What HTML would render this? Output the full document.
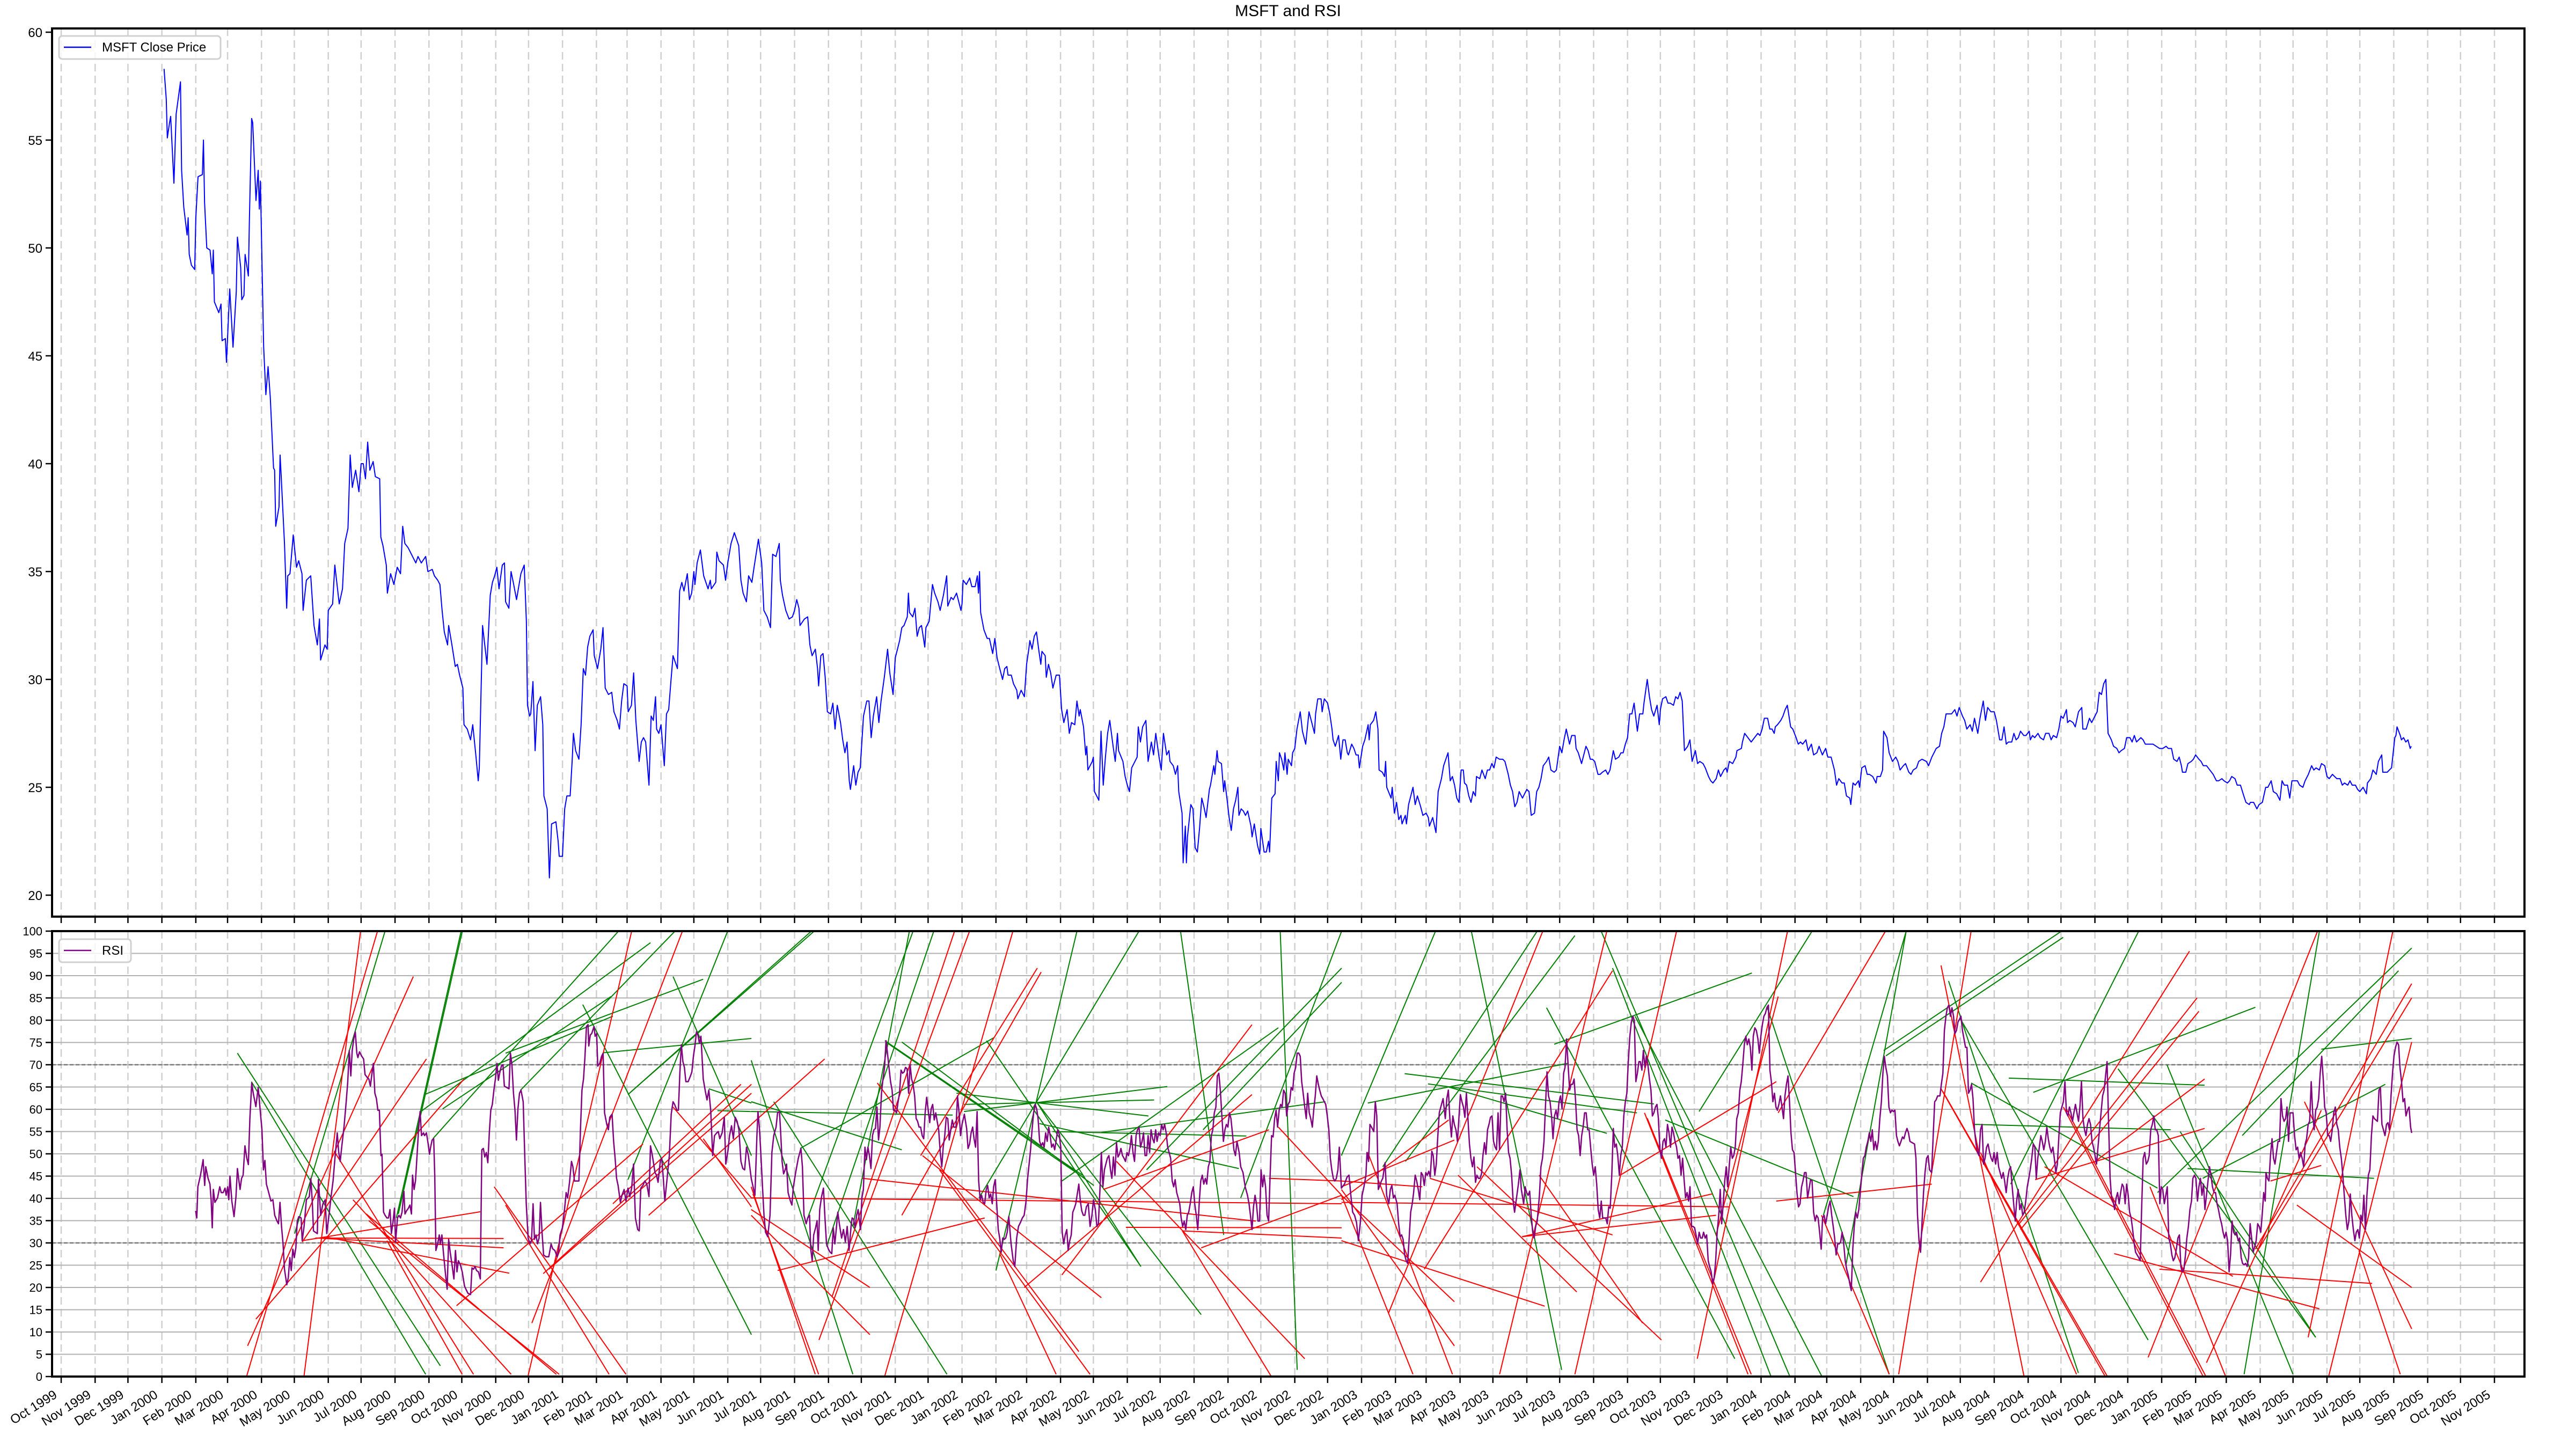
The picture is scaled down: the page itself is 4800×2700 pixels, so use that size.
<!DOCTYPE html>
<html><head><meta charset="utf-8"><title>MSFT and RSI</title>
<style>
html,body{margin:0;padding:0;background:#fff;}
#wrap{position:relative;width:4800px;height:2700px;overflow:hidden;background:#fff;}
svg{position:absolute;left:0;top:0;font-family:"Liberation Sans","DejaVu Sans",sans-serif;}
</style></head>
<body>
<div id="wrap">
<svg id="chart" width="4800" height="2700" viewBox="0 0 4800 2700">
<defs>
<clipPath id="clipTop"><rect x="97" y="53" width="4607" height="1655"/></clipPath>
<clipPath id="clipBot"><rect x="97" y="1735" width="4607" height="830"/></clipPath>
</defs>
<text x="2400" y="30" text-anchor="middle" font-size="30" fill="#000">MSFT and RSI</text>
<g id="topGrid"></g>
<g id="botGrid"></g>
<g id="topMarks" clip-path="url(#clipTop)"></g>
<g id="botMarks" clip-path="url(#clipBot)"></g>
<g id="axes"></g>
<g>
<rect x="110" y="67" width="301" height="43" rx="6" fill="#fff" fill-opacity="0.8" stroke="#d0d0d0" stroke-width="3"/>
<line x1="119" y1="88" x2="170" y2="88" stroke="#0000ff" stroke-width="2.5"/>
<text x="190" y="96" font-size="24" fill="#000">MSFT Close Price</text>
</g>
<g>
<rect x="110" y="1750" width="134" height="43" rx="6" fill="#fff" fill-opacity="0.8" stroke="#d0d0d0" stroke-width="3"/>
<line x1="119" y1="1771" x2="170" y2="1771" stroke="#800080" stroke-width="2.5"/>
<text x="190" y="1779" font-size="24" fill="#000">RSI</text>
</g>
<text x="2400" y="2722" text-anchor="middle" font-size="30" fill="#000">Date</text>
</svg>
</div>
<script>
// ---- data ----
var startDate = [1999, 9, 1];
var monthNames = ["Jan","Feb","Mar","Apr","May","Jun","Jul","Aug","Sep","Oct","Nov","Dec"];
var priceTicks = [20,25,30,35,40,45,50,55,60];
var rsiTicks = [0,5,10,15,20,25,30,35,40,45,50,55,60,65,70,75,80,85,90,95,100];
// price: [days since 1999-10-01, close]
var priceData = [[94,58.3],[96,56.9],[97,55.1],[99,55.8],[100,56.1],[103,53.0],[105,56.2],[109,57.7],[110,53.6],[112,51.9],[115,50.6],[116,51.4],[117,49.7],[119,49.2],[122,49.0],[123,51.4],[125,53.3],[129,53.4],[130,55.0],[131,52.1],[133,50.0],[136,49.9],[138,48.8],[139,49.9],[140,47.5],[144,47.0],[146,47.4],[147,45.7],[150,45.8],[151,44.7],[154,48.1],[157,45.4],[160,48.0],[161,50.5],[164,49.1],[165,47.6],[167,47.8],[168,49.7],[171,48.7],[172,51.4],[174,56.0],[175,55.8],[178,52.2],[180,53.6],[181,51.8],[182,53.1],[185,45.4],[187,43.2],[189,44.5],[191,43.1],[194,39.8],[195,39.7],[196,37.1],[199,38.0],[200,40.4],[201,39.4],[204,36.3],[206,33.3],[207,34.8],[209,34.9],[212,36.7],[215,35.2],[217,35.5],[220,34.9],[221,33.2],[224,34.6],[228,34.8],[231,32.5],[234,31.6],[236,32.8],[237,30.9],[241,31.6],[243,31.4],[244,33.2],[248,33.5],[250,35.3],[252,34.4],[254,33.5],[257,34.2],[259,36.3],[262,37.0],[264,40.4],[266,38.9],[269,39.7],[272,38.7],[274,40.0],[276,40.0],[278,39.3],[280,41.0],[282,39.7],[285,40.1],[287,39.4],[291,39.3],[292,36.6],[294,36.2],[297,35.3],[298,34.0],[301,34.9],[304,34.4],[307,35.2],[310,34.9],[312,37.1],[314,36.3],[317,36.1],[321,35.7],[324,35.4],[326,35.7],[329,35.4],[333,35.7],[335,35.0],[339,35.1],[341,34.8],[344,34.6],[346,34.4],[348,33.2],[350,32.2],[353,31.6],[354,32.5],[357,31.6],[360,30.6],[362,30.7],[364,30.2],[367,29.6],[368,27.9],[371,27.7],[374,27.2],[376,27.9],[379,26.4],[381,25.3],[382,25.9],[385,32.5],[387,31.6],[389,30.7],[392,33.9],[394,34.5],[396,34.8],[398,35.2],[400,34.2],[403,35.3],[405,35.4],[406,33.6],[409,33.3],[411,35.0],[413,34.5],[416,33.7],[420,34.9],[423,35.3],[425,32.7],[426,28.8],[428,28.3],[429,28.4],[431,29.9],[433,26.7],[435,28.8],[438,29.2],[440,27.9],[441,24.6],[444,24.0],[446,20.8],[448,23.3],[452,23.4],[454,22.5],[455,21.8],[458,21.8],[460,24.0],[462,24.6],[465,24.6],[467,26.4],[468,27.5],[470,26.7],[473,26.3],[475,27.9],[477,30.5],[479,30.2],[481,31.5],[483,32.0],[486,32.3],[487,31.1],[490,30.5],[493,31.4],[495,32.4],[497,29.6],[500,29.3],[503,29.4],[505,28.5],[508,28.1],[510,27.7],[512,29.0],[514,29.8],[517,29.7],[518,28.5],[521,28.8],[523,30.3],[525,28.1],[528,26.2],[530,27.1],[532,27.3],[534,27.1],[537,25.1],[539,28.3],[541,28.1],[543,29.2],[544,27.7],[546,27.5],[548,27.9],[551,26.0],[553,28.4],[555,28.6],[557,29.9],[559,31.1],[563,30.5],[565,34.1],[567,34.5],[569,34.1],[572,34.9],[574,33.7],[576,34.0],[578,35.0],[579,34.4],[581,35.4],[584,36.0],[586,35.2],[587,34.8],[591,34.2],[593,34.6],[594,34.2],[598,34.5],[599,35.9],[601,35.5],[605,35.3],[607,34.6],[609,35.4],[612,36.3],[615,36.8],[619,36.2],[621,34.6],[623,34.0],[626,33.6],[628,34.8],[631,34.5],[633,35.2],[637,36.5],[640,35.4],[642,33.2],[645,32.9],[648,32.4],[650,35.8],[653,35.7],[656,36.3],[657,34.6],[659,33.9],[662,33.2],[665,32.8],[668,32.9],[670,33.2],[672,33.7],[674,33.3],[675,32.5],[679,32.8],[682,32.9],[684,31.6],[686,31.1],[689,31.4],[691,30.5],[692,29.7],[694,31.1],[696,31.2],[698,30.1],[700,28.5],[703,28.4],[705,28.9],[707,27.7],[709,28.8],[712,28.0],[714,27.2],[716,26.6],[718,27.1],[720,25.3],[721,24.9],[724,26.0],[726,25.1],[728,25.7],[730,25.9],[733,28.3],[736,29.0],[738,29.0],[740,27.3],[742,28.3],[745,29.2],[747,28.0],[749,29.0],[752,30.1],[755,31.4],[757,30.3],[760,29.3],[762,31.0],[764,31.4],[766,31.8],[768,32.4],[770,32.5],[773,32.9],[774,34.0],[775,33.1],[778,32.9],[780,33.3],[782,32.0],[784,32.4],[786,32.5],[789,31.5],[790,32.4],[793,32.7],[796,34.4],[798,34.0],[801,33.6],[803,33.2],[806,33.9],[808,34.5],[809,34.8],[810,33.4],[813,33.8],[815,33.7],[818,34.0],[822,33.2],[823,33.5],[824,34.6],[827,34.4],[830,34.7],[832,34.3],[835,34.3],[837,34.8],[838,34.0],[839,35.0],[840,33.1],[843,32.3],[846,31.9],[848,31.9],[851,31.2],[853,31.9],[855,31.0],[857,30.6],[860,30.0],[862,30.5],[864,30.6],[865,30.2],[868,30.2],[870,29.8],[873,29.5],[874,29.1],[877,29.5],[880,29.2],[882,30.7],[884,31.4],[885,31.8],[887,31.4],[889,32.0],[891,32.2],[893,31.4],[895,30.7],[896,31.3],[899,31.1],[900,30.1],[902,30.7],[904,30.3],[906,29.6],[909,30.2],[912,30.2],[914,28.6],[916,28.0],[919,28.6],[921,27.5],[923,28.0],[926,27.9],[928,29.0],[930,28.3],[931,28.6],[934,27.8],[936,26.5],[937,26.9],[938,25.8],[942,26.2],[943,26.4],[944,24.8],[948,24.4],[950,27.6],[952,25.1],[954,26.4],[956,27.5],[958,28.1],[961,26.9],[963,26.2],[965,27.5],[966,26.7],[970,26.2],[972,25.5],[974,25.1],[976,24.8],[978,25.9],[981,26.2],[983,26.4],[984,27.8],[986,27.1],[988,27.8],[991,28.1],[993,26.2],[996,27.1],[998,26.5],[1000,27.5],[1003,26.4],[1005,25.8],[1007,27.5],[1010,26.5],[1012,26.7],[1013,26.2],[1016,26.0],[1018,25.6],[1020,26.0],[1021,24.8],[1024,23.8],[1025,21.5],[1027,23.2],[1028,21.5],[1029,22.7],[1032,24.2],[1034,24.0],[1036,22.2],[1038,22.0],[1040,23.1],[1042,24.5],[1044,24.1],[1046,23.6],[1049,24.9],[1050,25.1],[1053,26.0],[1054,25.6],[1056,26.7],[1057,26.2],[1060,26.1],[1062,24.8],[1063,25.3],[1065,24.5],[1067,23.6],[1069,23.0],[1071,24.0],[1073,24.4],[1075,25.0],[1076,23.7],[1078,24.0],[1080,23.9],[1082,23.7],[1084,23.9],[1087,23.2],[1088,22.7],[1090,23.3],[1093,22.3],[1095,21.9],[1096,23.1],[1099,22.0],[1101,22.0],[1103,22.5],[1104,22.0],[1106,24.5],[1109,24.7],[1110,26.2],[1112,25.3],[1113,26.6],[1115,26.3],[1117,25.8],[1118,26.6],[1120,25.6],[1121,26.3],[1124,26.0],[1125,26.6],[1127,26.8],[1129,27.7],[1132,28.5],[1134,27.6],[1137,27.0],[1140,28.5],[1143,27.9],[1145,27.5],[1146,28.4],[1148,29.1],[1151,29.1],[1152,28.5],[1154,29.1],[1157,28.9],[1159,28.4],[1161,27.7],[1162,27.2],[1164,26.9],[1167,27.4],[1169,26.3],[1171,27.2],[1173,27.2],[1175,26.6],[1176,26.5],[1179,27.0],[1181,26.8],[1183,26.5],[1185,26.5],[1186,25.9],[1189,26.9],[1191,27.2],[1194,27.9],[1195,27.2],[1196,27.9],[1199,28.1],[1201,28.5],[1203,27.7],[1204,25.8],[1207,25.7],[1209,25.5],[1210,26.2],[1211,25.0],[1215,24.5],[1216,25.0],[1218,23.8],[1220,24.3],[1222,23.5],[1224,23.7],[1225,23.3],[1228,23.7],[1229,23.3],[1231,24.2],[1233,24.6],[1235,25.0],[1237,24.2],[1239,24.6],[1242,24.1],[1244,23.7],[1247,23.8],[1249,23.6],[1250,23.2],[1253,23.6],[1256,22.9],[1258,24.8],[1261,25.4],[1263,26.0],[1265,26.3],[1267,26.6],[1269,25.3],[1271,25.5],[1273,25.1],[1275,24.5],[1277,24.3],[1279,25.8],[1281,25.8],[1282,25.2],[1284,25.1],[1286,24.6],[1288,24.3],[1290,24.8],[1292,24.6],[1293,25.5],[1296,25.4],[1298,25.8],[1301,25.4],[1303,25.8],[1305,25.8],[1307,26.1],[1309,25.9],[1311,26.4],[1314,26.3],[1317,26.3],[1319,26.2],[1322,25.6],[1324,25.1],[1326,24.8],[1328,24.1],[1330,24.3],[1332,24.8],[1335,24.5],[1337,24.7],[1339,24.9],[1341,24.8],[1343,23.7],[1346,23.8],[1348,24.8],[1350,25.0],[1352,25.4],[1354,26.0],[1357,26.2],[1359,26.4],[1361,25.8],[1364,25.7],[1366,25.8],[1369,26.9],[1371,26.6],[1373,27.2],[1375,27.7],[1378,27.0],[1380,27.4],[1383,27.4],[1384,26.8],[1386,26.6],[1389,26.1],[1391,26.5],[1393,26.9],[1395,26.7],[1397,26.3],[1399,26.3],[1401,26.2],[1404,25.6],[1406,25.6],[1408,25.7],[1411,25.8],[1413,25.6],[1415,25.8],[1418,26.7],[1420,26.3],[1423,26.4],[1425,26.6],[1427,26.6],[1429,27.0],[1431,27.3],[1433,28.4],[1435,28.4],[1437,28.9],[1440,27.6],[1442,28.4],[1445,28.4],[1446,28.9],[1449,30.0],[1451,29.2],[1453,28.6],[1455,28.3],[1458,28.8],[1460,27.9],[1461,28.6],[1463,29.1],[1466,29.2],[1468,28.9],[1470,28.9],[1473,28.8],[1475,29.2],[1477,29.1],[1479,29.4],[1481,29.0],[1483,26.7],[1486,26.9],[1488,27.2],[1490,26.2],[1493,26.7],[1495,26.1],[1497,26.2],[1500,26.1],[1502,25.9],[1505,25.5],[1507,25.3],[1509,25.2],[1512,25.4],[1514,25.8],[1516,25.5],[1519,25.8],[1521,25.9],[1522,25.7],[1524,26.2],[1527,26.1],[1530,26.4],[1531,26.7],[1535,26.8],[1536,27.1],[1538,27.5],[1541,27.3],[1544,27.1],[1547,27.3],[1550,27.5],[1552,27.4],[1554,27.7],[1556,28.2],[1559,28.2],[1561,27.7],[1563,27.7],[1565,27.5],[1566,27.8],[1568,27.9],[1571,28.1],[1573,28.3],[1575,28.6],[1577,28.8],[1580,27.8],[1582,27.7],[1585,27.3],[1587,27.0],[1589,27.1],[1591,27.0],[1594,27.2],[1596,26.7],[1599,27.0],[1601,26.5],[1604,26.6],[1606,26.9],[1609,26.5],[1612,26.8],[1614,26.4],[1617,26.4],[1620,25.8],[1622,25.1],[1624,25.4],[1627,25.2],[1629,25.2],[1631,24.6],[1634,24.5],[1635,24.2],[1637,25.2],[1639,25.1],[1642,25.3],[1643,25.0],[1645,25.9],[1648,26.0],[1650,25.6],[1652,25.6],[1655,25.5],[1658,25.2],[1659,25.5],[1662,25.5],[1664,25.8],[1665,27.6],[1668,27.3],[1670,26.6],[1673,26.2],[1676,26.4],[1678,26.2],[1680,25.8],[1683,26.0],[1685,26.1],[1688,25.7],[1690,25.6],[1692,25.8],[1695,25.9],[1697,26.2],[1700,26.3],[1704,26.2],[1706,26.0],[1709,26.4],[1711,26.6],[1713,26.8],[1716,26.9],[1718,27.5],[1720,27.8],[1722,28.4],[1725,28.4],[1727,28.4],[1730,28.6],[1732,28.3],[1734,28.7],[1737,28.3],[1739,28.1],[1741,27.7],[1744,27.9],[1746,27.6],[1748,28.2],[1751,27.5],[1753,28.2],[1756,29.0],[1758,28.1],[1760,28.7],[1763,28.5],[1766,28.5],[1768,28.1],[1771,27.2],[1773,27.2],[1775,27.8],[1777,27.0],[1779,27.1],[1782,27.1],[1784,27.5],[1786,27.2],[1788,27.3],[1790,27.6],[1793,27.4],[1795,27.4],[1798,27.6],[1799,27.2],[1801,27.4],[1803,27.3],[1806,27.5],[1808,27.3],[1811,27.2],[1813,27.5],[1816,27.5],[1818,27.2],[1820,27.4],[1823,27.3],[1825,27.7],[1827,28.3],[1829,28.2],[1832,28.6],[1833,28.0],[1835,28.1],[1838,28.0],[1840,27.8],[1843,28.5],[1846,28.7],[1847,27.7],[1850,27.7],[1853,28.2],[1855,28.0],[1857,28.2],[1860,28.5],[1862,29.4],[1864,29.3],[1866,29.8],[1868,30.0],[1870,27.5],[1873,27.2],[1875,26.9],[1878,26.8],[1880,26.6],[1882,26.7],[1885,26.8],[1887,27.3],[1890,27.3],[1892,27.1],[1894,27.4],[1896,27.1],[1900,27.3],[1902,27.2],[1904,27.0],[1907,27.0],[1909,27.0],[1911,27.0],[1914,26.9],[1917,26.8],[1920,26.8],[1923,26.9],[1925,26.8],[1928,26.8],[1930,26.3],[1933,26.2],[1935,26.4],[1937,26.0],[1938,25.7],[1941,25.7],[1943,26.1],[1946,26.2],[1948,26.3],[1950,26.5],[1953,26.3],[1955,26.2],[1957,26.0],[1960,26.0],[1963,25.8],[1966,25.6],[1969,25.3],[1971,25.3],[1974,25.4],[1976,25.3],[1979,25.2],[1981,25.3],[1983,25.5],[1986,25.4],[1988,25.1],[1991,25.1],[1994,24.6],[1996,24.3],[1999,24.2],[2000,24.3],[2003,24.3],[2006,24.0],[2008,24.2],[2011,24.3],[2014,25.0],[2016,25.0],[2019,25.3],[2021,24.8],[2024,24.7],[2027,24.4],[2029,25.3],[2031,25.1],[2034,25.1],[2036,24.5],[2038,25.3],[2041,25.3],[2043,25.3],[2045,25.1],[2048,25.0],[2050,25.3],[2053,25.6],[2056,26.0],[2058,25.8],[2060,25.9],[2063,25.8],[2065,26.1],[2068,26.0],[2070,25.5],[2072,25.4],[2075,25.6],[2077,25.5],[2079,25.4],[2082,25.4],[2084,25.1],[2086,25.2],[2089,25.1],[2091,25.3],[2093,25.1],[2096,25.1],[2098,24.9],[2100,24.8],[2103,25.0],[2106,24.7],[2107,25.2],[2110,25.4],[2112,25.8],[2115,25.6],[2117,26.2],[2120,26.5],[2121,25.7],[2125,25.7],[2127,25.8],[2129,25.9],[2132,27.3],[2133,27.4],[2134,27.8],[2137,27.4],[2138,27.2],[2140,27.3],[2142,27.1],[2144,27.2],[2146,26.8],[2147,26.9]];
// RSI: [days since 1999-10-01, rsi]
var rsiData = [[122.8,37.2],[123.9,35.6],[124.9,42.6],[127.3,45.2],[129.7,48.7],[131.1,42.9],[132.1,47.1],[134.2,44.5],[135.9,43.2],[137,39.7],[138,33.4],[139,42.0],[140.4,39.1],[142.8,40.1],[144.9,42.6],[146.2,41.3],[148,41.3],[149.7,42.3],[150.7,40.7],[152.1,42.6],[153.1,39.7],[154.2,45.0],[155.9,39.4],[157.9,35.9],[159.7,40.4],[161,46.7],[162.1,44.5],[163.4,42.0],[164.8,44.5],[166.2,45.2],[167.9,51.8],[169.6,49.0],[171,47.6],[172.4,57.9],[174.1,65.9],[175.5,63.6],[177.9,60.6],[180,64.9],[181.7,60.1],[183.4,55.4],[184.8,46.4],[186.1,48.5],[187.5,43.2],[189.6,41.3],[191.6,39.4],[193.4,39.7],[195.1,36.2],[197.2,34.9],[198.5,34.3],[199.9,39.1],[201.3,33.7],[202.7,29.8],[204,24.1],[206.1,20.6],[207.5,22.2],[208.9,26.7],[210.2,23.8],[211.6,28.6],[213,26.7],[214.4,28.9],[215.7,34.9],[217.1,35.9],[219.2,35.6],[220.2,30.5],[221.9,33.7],[224,39.7],[226.7,40.4],[228.1,44.5],[229.5,38.8],[230.5,32.7],[232.2,32.4],[234,32.1],[235,44.2],[237.1,36.2],[239.1,38.8],[241.2,39.7],[242.6,32.1],[245,36.9],[246.7,40.7],[248.4,43.9],[250.1,49.0],[252.2,54.7],[253.6,50.3],[254.9,48.3],[256.3,51.5],[258.4,56.0],[260.4,61.7],[261.8,66.2],[263.2,73.2],[264.6,67.5],[265.9,73.2],[267.3,75.8],[268.7,77.4],[270.1,72.6],[271.1,71.6],[272.5,72.9],[274.6,71.9],[276.3,71.3],[277.6,67.8],[279.4,67.2],[281.1,66.8],[282.5,65.2],[283.8,67.8],[285.2,70.3],[286.6,63.6],[288,62.4],[289.3,59.8],[290.7,59.8],[292.1,49.6],[293.1,49.9],[294.5,36.9],[295.9,36.2],[297.6,35.6],[299,35.6],[300.4,37.5],[301.7,32.1],[303.1,34.6],[304.5,37.8],[305.5,30.2],[307.2,35.6],[308.6,36.2],[310,35.6],[311.4,36.9],[313.1,41.6],[314.1,36.5],[315.5,37.2],[317.2,37.8],[318.6,38.5],[320,36.5],[321,45.2],[322.4,42.0],[323.7,43.9],[325.1,49.6],[326.5,55.4],[327.9,59.5],[329.2,54.1],[331,54.7],[332,54.1],[333.7,54.7],[335.1,52.5],[336.5,49.9],[337.5,51.5],[338.9,53.1],[340.3,53.4],[341.3,45.2],[342.3,28.3],[344,29.8],[345.4,31.8],[346.4,29.8],[347.8,31.8],[349.2,27.9],[350.9,23.5],[352.6,19.6],[354,30.8],[355.4,27.9],[357.1,25.1],[358.8,21.9],[360.2,28.3],[361.6,23.5],[362.9,26.0],[364.7,25.1],[366.4,23.5],[368.5,20.3],[369.8,19.6],[371.6,18.7],[374,18.4],[375.3,24.4],[376.7,24.1],[378.1,24.7],[379.5,23.8],[381.2,23.5],[382.9,21.9],[384.3,50.9],[385.7,51.2],[387,49.3],[388.4,50.3],[389.8,48.0],[391.2,55.0],[392.5,59.8],[393.9,61.1],[395.3,64.3],[396.7,66.8],[398.1,70.3],[399.4,66.5],[400.8,68.4],[402.2,69.7],[403.6,70.0],[404.9,65.2],[407,64.9],[409.1,64.6],[410.4,72.6],[411.8,70.0],[413.2,63.6],[414.6,59.8],[415.9,53.1],[417.3,60.1],[418.7,63.6],[420.1,64.3],[422.1,61.7],[423.5,49.6],[424.9,38.8],[426.6,31.1],[428.3,29.8],[429.7,30.5],[431.1,38.8],[432.4,30.8],[433.8,31.8],[435.2,29.8],[436.6,31.1],[437.9,39.1],[439.3,32.4],[440.7,27.3],[442.8,26.9],[445.5,26.9],[447.6,29.8],[449,28.7],[451,28.3],[453.1,26.9],[454.5,28.3],[455.8,31.8],[457.9,33.4],[460,37.8],[461.3,41.3],[462.7,40.1],[464.4,43.6],[466.2,48.3],[467.5,47.1],[468.9,43.9],[471,43.9],[473,43.9],[474.4,55.4],[475.8,64.3],[477.2,66.8],[478.5,71.6],[479.9,78.6],[481.3,79.0],[482,74.2],[483.4,76.7],[484.7,77.0],[486.8,78.6],[487.8,76.4],[489.2,77.0],[490.2,69.7],[492,70.3],[493.7,71.9],[495.1,72.6],[496.4,59.2],[498.5,56.6],[499.9,55.4],[501.2,58.2],[503.3,58.9],[504.7,52.8],[506.1,49.0],[507.4,44.5],[508.8,42.9],[510.9,39.1],[512.3,40.7],[514.3,42.0],[516,39.4],[517.8,42.3],[519.5,40.4],[521.2,42.3],[522.9,47.7],[524.6,35.6],[526.7,33.0],[528.1,32.7],[529.5,42.3],[531.5,42.9],[533.2,43.9],[535,43.2],[537,40.4],[538.4,51.8],[540.1,49.6],[542.5,45.8],[543.9,45.2],[545.3,43.6],[547.3,48.3],[548.7,49.0],[550.1,44.5],[551.5,39.4],[552.8,42.6],[555.6,49.6],[557.3,58.9],[559,61.7],[560.4,61.1],[562.5,59.8],[563.9,59.8],[565.2,68.1],[566.6,74.5],[568,70.7],[569.4,69.4],[570.7,66.2],[572.8,66.2],[574.9,67.5],[576.2,68.4],[577.6,71.9],[579,74.2],[580.4,77.4],[581.7,76.7],[583.1,74.8],[584.5,76.4],[586.6,66.8],[588.3,64.3],[590,62.1],[591.7,64.3],[593.4,59.8],[595.2,49.6],[596.9,54.1],[598.9,54.7],[600.3,55.0],[601.7,53.4],[603.8,54.7],[605.8,58.2],[607.2,47.7],[609.3,50.9],[610.6,54.1],[612.4,56.3],[614.1,53.4],[615.8,58.2],[617.5,57.3],[619.2,55.4],[621,48.3],[622.7,46.7],[624.4,46.4],[626.1,51.5],[627.8,49.6],[630.4,44.5],[632.1,42.6],[633.8,40.7],[635.6,54.1],[636.6,59.5],[638,55.4],[639.3,49.6],[640.7,42.6],[642.1,36.2],[643.5,32.4],[645.5,31.4],[647.6,36.2],[649.3,50.3],[651,54.1],[653.1,56.0],[654.5,59.2],[656.2,59.5],[657.2,55.4],[658.6,48.3],[660,45.5],[661.4,46.4],[662.7,47.7],[664.1,41.3],[666.2,39.4],[667.6,38.5],[668.9,42.6],[671,45.8],[673.4,49.0],[675.8,51.2],[677.2,47.1],[678.6,36.2],[680.6,34.3],[682,35.6],[683.7,36.2],[684.8,28.6],[686.1,26.0],[687.5,31.8],[689.2,33.4],[690.6,35.0],[691.6,28.3],[693,37.5],[694.7,40.4],[696.4,42.3],[697.8,35.6],[699.2,29.8],[700.9,28.6],[702.6,27.9],[704,27.6],[705.4,33.4],[706.8,29.8],[708.1,33.0],[709.5,36.9],[710.9,34.3],[713,31.1],[714.7,33.0],[716.4,30.2],[718.1,33.7],[719.8,28.3],[721.6,33.7],[722.6,35.6],[724,35.3],[725.3,33.4],[726.7,36.2],[728.1,37.5],[730.2,33.0],[731.5,40.1],[732.9,42.0],[734.3,51.5],[735.7,48.7],[737,51.5],[738.4,49.6],[739.8,46.7],[741.2,54.1],[742.5,55.4],[743.9,55.7],[745.3,60.5],[746.7,53.1],[748,56.0],[749.4,63.6],[750.8,66.8],[752.2,69.4],[753.6,75.4],[754.9,72.6],[756.3,69.4],[757.7,66.2],[759.1,64.3],[760.4,59.8],[761.8,59.8],[763.2,59.2],[764.6,61.7],[765.9,63.6],[767.3,68.8],[768.7,68.1],[770.1,68.4],[771.4,69.4],[772.8,69.1],[774.2,63.6],[775.6,70.0],[776.9,66.8],[778.3,65.6],[779.7,63.0],[781.1,57.9],[782.4,57.3],[783.8,56.0],[785.2,56.0],[786.6,54.1],[788,53.4],[789.3,59.2],[790.7,62.7],[792.1,59.8],[793.5,57.0],[794.8,60.1],[796.2,61.1],[797.6,57.6],[799,59.2],[800.3,57.3],[801.7,55.4],[803.1,50.3],[804.5,47.1],[805.8,51.5],[807.2,54.1],[808.6,58.2],[810,57.9],[811.3,53.1],[812.7,55.4],[814.1,57.6],[815.5,56.0],[817.5,56.0],[818.9,63.0],[820.3,59.2],[821.7,54.1],[823,56.6],[825.1,58.9],[827.2,55.7],[828.5,51.2],[829.9,52.2],[831.3,54.7],[832.7,56.0],[834,53.4],[835.4,51.5],[836.8,59.5],[838.2,43.9],[839.6,39.7],[840.9,40.7],[842.3,39.1],[843.7,38.8],[845.1,42.0],[846.4,42.9],[847.8,40.1],[849.2,41.0],[850.6,38.8],[851.9,42.6],[853.3,44.2],[854.7,38.8],[856.1,33.0],[857.4,31.1],[858.8,27.9],[860.2,31.1],[861.6,30.8],[862.9,31.1],[864.3,32.4],[865.7,35.9],[867.8,29.8],[869.8,26.0],[871.2,24.7],[872.9,31.1],[874.6,33.7],[876.4,34.6],[878.1,35.6],[879.8,36.2],[881.5,39.4],[882.9,44.5],[884.3,47.7],[885.6,50.9],[887,55.4],[888.4,59.2],[889.8,61.1],[891.2,60.1],[892.5,57.9],[893.9,52.8],[895.3,51.8],[896.7,52.5],[898,51.5],[899.4,54.7],[900.8,52.8],[902.2,56.0],[903.5,54.1],[904.9,51.5],[906.3,52.2],[907.7,50.9],[909,53.1],[910.4,55.4],[911.8,54.4],[913.2,51.5],[914.5,32.4],[915.9,29.8],[917.3,31.8],[918.7,33.0],[920,28.3],[921.4,30.5],[922.8,31.8],[924.2,36.9],[925.6,37.8],[926.9,38.8],[928.3,41.0],[929.7,43.2],[931.1,39.4],[932.4,37.2],[933.8,36.2],[935.2,36.2],[936.6,38.1],[938.3,38.8],[940,33.7],[941.7,36.2],[943.1,39.7],[944.8,37.5],[946.2,33.7],[947.6,34.3],[949,42.0],[950.3,50.3],[951.7,42.6],[953.1,46.4],[954.4,47.7],[955.8,49.0],[957.2,49.6],[958.6,46.4],[959.9,44.5],[961.3,49.3],[962.7,45.2],[964.1,52.5],[965.5,49.3],[966.8,49.9],[968.2,51.2],[969.6,49.6],[971,49.0],[972.3,48.3],[973.7,50.3],[975.1,49.6],[976.5,51.5],[977.8,54.1],[979.2,50.3],[980.6,48.3],[982,54.1],[983.3,55.4],[984.7,56.0],[986.1,51.5],[987.5,52.8],[988.8,54.7],[990.2,49.6],[991.6,49.6],[993,54.1],[994.4,50.3],[995.7,55.4],[997.1,53.4],[998.5,52.5],[999.9,55.4],[1001.2,52.8],[1002.6,54.7],[1004,54.1],[1005.4,56.6],[1006.7,55.4],[1008.1,56.6],[1009.5,54.7],[1010.9,51.5],[1012.2,50.3],[1013.6,49.0],[1015,43.9],[1016.4,42.6],[1017.7,44.2],[1019.1,41.3],[1020.5,40.1],[1021.9,38.8],[1023.2,35.6],[1024.6,33.7],[1026,34.9],[1027.4,33.0],[1028.8,36.2],[1030.1,36.9],[1031.5,38.8],[1032.9,41.3],[1034.3,42.6],[1035.6,38.8],[1037,36.2],[1038.4,33.0],[1039.8,39.4],[1041.1,43.9],[1042.5,45.2],[1043.9,43.2],[1045.3,44.5],[1046.6,43.2],[1048,47.1],[1049.4,48.3],[1050.8,54.1],[1052.1,55.4],[1053.5,59.2],[1054.9,60.5],[1056.3,67.5],[1057.6,68.1],[1059,64.3],[1060.4,58.5],[1061.8,52.8],[1063.2,55.4],[1064.5,56.6],[1065.9,56.0],[1067.3,59.2],[1068.7,57.9],[1070,54.7],[1071.4,50.9],[1072.8,49.6],[1074.2,52.8],[1076.2,50.3],[1077.6,47.1],[1079.7,45.8],[1081.7,42.6],[1083.8,40.7],[1085.2,38.8],[1086.5,36.2],[1087.9,33.0],[1089.3,38.1],[1090.7,40.7],[1092,38.8],[1093.4,34.9],[1094.8,34.9],[1096.2,46.4],[1097.6,42.6],[1098.9,45.2],[1100.3,42.6],[1101.7,36.2],[1103.1,34.9],[1104.4,44.5],[1105.8,54.1],[1107.2,53.8],[1108.6,57.9],[1109.9,59.8],[1111.3,56.0],[1112.7,59.8],[1114.1,61.1],[1115.4,60.5],[1116.8,64.3],[1118.2,63.6],[1119.6,58.5],[1120.9,61.1],[1122.3,61.7],[1123.7,64.9],[1125.1,64.3],[1126.4,68.1],[1127.8,69.4],[1129.2,72.6],[1130.6,72.6],[1132,71.9],[1133.3,66.2],[1134.7,63.6],[1136.1,60.5],[1137.5,57.9],[1138.8,63.6],[1140.2,59.2],[1141.6,57.9],[1143,56.0],[1144.3,59.8],[1145.7,63.0],[1147.1,67.5],[1148.5,65.6],[1149.8,64.3],[1151.2,63.0],[1152.6,62.4],[1154,61.7],[1155.3,61.1],[1156.7,58.5],[1158.1,55.4],[1159.5,49.0],[1160.8,46.4],[1162.2,44.5],[1163.6,43.9],[1165,44.5],[1166.4,46.4],[1167.7,51.5],[1169.6,42.3],[1172.4,43.2],[1174.8,44.8],[1176.5,45.2],[1178.2,40.7],[1179.9,36.9],[1181.6,36.2],[1183.4,34.6],[1185.1,30.5],[1186.8,34.3],[1188.5,40.7],[1190.2,42.6],[1192,45.2],[1193,50.3],[1194.4,48.3],[1195.7,56.6],[1197.1,56.0],[1199.2,55.0],[1200.6,61.7],[1201.9,58.5],[1203.3,42.0],[1204.7,42.9],[1206.1,43.9],[1207.4,44.5],[1209.5,48.0],[1210.9,40.7],[1212.9,38.8],[1214.3,42.0],[1215.7,42.9],[1217.1,40.1],[1218.4,40.7],[1220.5,38.8],[1221.9,34.3],[1223.3,31.4],[1224.6,31.8],[1226,30.8],[1227.4,27.3],[1228.8,26.0],[1230.1,25.4],[1231.5,31.1],[1232.9,36.9],[1234.3,38.8],[1235.6,41.3],[1237,45.2],[1238.4,43.9],[1239.8,42.0],[1241.2,39.7],[1242.5,45.8],[1243.9,45.2],[1245.3,42.9],[1246.7,45.8],[1248,45.2],[1249.4,46.1],[1250.8,44.8],[1252.2,50.6],[1253.5,49.6],[1254.9,45.2],[1256.3,47.7],[1257.7,54.1],[1259,59.2],[1260.4,60.5],[1262.5,62.4],[1264.5,57.9],[1265.9,62.4],[1267.3,64.3],[1268.7,57.9],[1270.1,53.8],[1271.4,58.5],[1272.8,56.6],[1274.2,55.4],[1275.6,52.8],[1276.9,57.9],[1278.3,63.3],[1279.7,61.7],[1281.1,60.5],[1282.4,58.2],[1283.8,63.6],[1285.2,57.9],[1286.6,52.2],[1287.9,49.0],[1289.3,47.1],[1290.7,49.3],[1292.1,43.6],[1293.4,45.2],[1294.8,44.5],[1296.2,44.5],[1297.6,45.5],[1298.9,49.6],[1300.3,52.5],[1301.7,49.9],[1303.1,55.4],[1304.4,56.6],[1305.8,58.2],[1307.2,58.5],[1308.6,52.8],[1310,51.5],[1311.3,50.9],[1312.7,59.2],[1314.1,50.9],[1315.5,63.0],[1316.8,63.0],[1318.2,61.7],[1319.6,63.6],[1321,55.4],[1322.3,50.3],[1323.7,49.0],[1325.1,45.2],[1326.5,39.4],[1327.8,36.9],[1329.9,40.7],[1331.3,43.2],[1332.7,46.4],[1334,42.0],[1336.1,38.8],[1337.5,42.6],[1338.8,41.3],[1340.2,40.7],[1341.6,41.6],[1343,36.2],[1344.4,32.4],[1345.7,31.1],[1347.1,33.7],[1348.5,34.9],[1350.5,40.7],[1351.9,47.1],[1353.3,49.0],[1354.7,52.8],[1356,60.5],[1357.4,68.4],[1358.8,63.0],[1360.2,61.7],[1361.6,58.5],[1362.9,53.4],[1364.3,58.5],[1365.7,59.8],[1367.1,57.9],[1368.4,61.7],[1369.8,63.0],[1371.2,60.1],[1372.6,68.1],[1373.9,69.4],[1375.3,75.8],[1376.7,70.0],[1378.1,64.3],[1379.4,65.6],[1380.8,65.6],[1382.2,66.8],[1383.6,61.7],[1384.9,55.4],[1386.3,54.1],[1387.7,49.6],[1389.1,54.1],[1390.4,56.0],[1391.8,59.2],[1393.2,59.2],[1394.6,55.4],[1395.9,55.4],[1397.3,51.5],[1398.7,47.7],[1400.1,45.2],[1401.5,47.1],[1402.8,43.2],[1404.2,37.5],[1405.6,35.6],[1407,39.4],[1408.3,35.6],[1409.7,35.6],[1411.1,35.6],[1412.5,34.3],[1413.8,38.1],[1415.2,37.8],[1416.6,45.2],[1418,55.7],[1419.3,51.5],[1420.7,52.2],[1422.1,49.6],[1423.5,45.2],[1424.8,49.6],[1426.2,51.5],[1427.6,58.5],[1429,61.7],[1430.4,63.6],[1431.7,70.7],[1433.1,76.4],[1434.5,79.6],[1435.9,80.9],[1437.2,79.9],[1438.6,66.2],[1440,68.1],[1441.4,70.7],[1442.7,70.7],[1444.1,68.8],[1445.5,73.2],[1446.9,69.4],[1448.2,71.9],[1449.6,70.0],[1451,66.8],[1452.4,64.3],[1453.7,58.5],[1455.1,59.2],[1456.5,60.5],[1457.9,61.1],[1459.2,57.9],[1460.6,50.9],[1462,49.0],[1463.4,52.8],[1464.8,53.4],[1466.1,51.5],[1467.5,56.6],[1468.9,54.7],[1470.3,51.5],[1471.6,56.0],[1473,54.7],[1474.4,52.8],[1475.8,51.5],[1477.1,49.0],[1478.5,49.6],[1479.9,45.2],[1481.3,49.0],[1482.6,44.5],[1484,40.1],[1485.4,41.3],[1486.8,39.4],[1488.1,42.6],[1489.5,33.7],[1490.9,33.7],[1492.3,33.4],[1493.6,31.8],[1495,29.8],[1496.4,32.4],[1497.8,31.1],[1499.2,31.1],[1500.5,32.4],[1501.9,31.1],[1503.3,31.8],[1504.7,26.0],[1506,24.7],[1507.4,23.5],[1508.8,20.9],[1510.2,22.2],[1511.5,26.0],[1512.9,32.4],[1514.3,36.2],[1515.7,42.0],[1517,34.3],[1518.4,38.8],[1519.8,43.9],[1521.2,47.1],[1522.5,42.6],[1523.9,47.1],[1525.3,51.5],[1526.7,49.0],[1528,49.6],[1529.4,51.5],[1530.8,57.9],[1532.2,59.2],[1533.6,64.3],[1534.9,66.2],[1536.3,70.0],[1537.7,74.5],[1539.1,76.4],[1540.4,74.5],[1541.8,75.8],[1543.2,73.9],[1544.6,68.8],[1545.9,76.4],[1547.3,78.3],[1548.7,77.7],[1550.1,75.8],[1551.4,72.6],[1552.8,76.4],[1554.2,79.0],[1555.6,80.9],[1556.9,81.5],[1558.3,82.8],[1559.7,83.4],[1561.1,68.8],[1562.4,66.2],[1563.8,61.7],[1565.2,63.6],[1566.6,60.5],[1567.9,59.8],[1569.3,61.1],[1570.7,63.0],[1572.1,60.5],[1573.5,57.9],[1574.8,63.0],[1576.2,65.6],[1577.6,67.5],[1579,61.7],[1580.3,54.7],[1581.7,50.9],[1583.1,50.3],[1584.5,45.8],[1585.8,41.3],[1587.2,38.1],[1588.6,38.8],[1590,42.6],[1591.3,43.9],[1592.7,45.8],[1594.1,45.8],[1595.5,40.1],[1596.8,42.0],[1598.2,44.2],[1599.6,43.9],[1601,36.9],[1602.4,34.9],[1603.7,36.2],[1605.1,35.6],[1606.5,32.4],[1607.9,28.6],[1609.2,35.6],[1610.6,36.2],[1612,34.3],[1613.4,36.2],[1614.7,38.1],[1616.1,39.4],[1617.5,36.2],[1618.9,33.7],[1620.2,31.1],[1621.6,27.3],[1623,29.8],[1624.4,29.8],[1625.7,30.2],[1627.1,32.4],[1628.5,29.8],[1629.9,26.0],[1631.2,24.1],[1632.6,22.8],[1634,20.9],[1635.4,19.3],[1636.8,28.6],[1638.1,33.7],[1639.5,36.9],[1640.9,35.6],[1642.3,37.5],[1643.6,41.3],[1645,45.2],[1646.4,49.0],[1647.8,49.6],[1649.1,51.5],[1650.5,52.8],[1651.9,54.7],[1653.3,52.8],[1654.6,55.4],[1656,50.9],[1657.4,52.8],[1658.8,50.9],[1660.1,52.8],[1661.5,57.9],[1662.9,61.7],[1664.3,68.1],[1665.6,71.9],[1667,69.4],[1668.4,67.5],[1669.8,60.5],[1671.2,59.2],[1672.5,59.8],[1673.9,59.5],[1675.3,59.8],[1676.7,54.1],[1678,52.8],[1679.4,51.8],[1680.8,52.8],[1682.2,53.8],[1683.5,53.4],[1684.9,54.7],[1686.3,55.7],[1687.7,54.7],[1689,52.8],[1691.1,52.5],[1693.2,52.2],[1694.5,49.0],[1695.9,36.2],[1697.3,30.5],[1698.7,27.9],[1700,34.3],[1701.4,41.3],[1702.8,45.8],[1704.2,49.0],[1705.6,49.6],[1706.9,46.4],[1708.8,45.8],[1710.5,55.4],[1711.6,61.7],[1712.9,62.1],[1714.3,63.0],[1716.4,63.0],[1717.7,65.6],[1719.1,68.1],[1720.5,77.7],[1721.9,80.9],[1723.2,82.8],[1724.6,83.4],[1726,80.9],[1727.4,82.8],[1728.8,80.9],[1730.1,77.0],[1731.5,77.7],[1732.9,79.6],[1734.3,80.2],[1735.6,80.9],[1737,77.7],[1738.4,75.8],[1739.8,73.9],[1741.1,73.9],[1742.5,63.6],[1743.9,64.3],[1745.3,65.6],[1746.6,62.4],[1748,55.4],[1749.4,52.2],[1750.8,50.3],[1752.1,49.6],[1753.5,55.4],[1754.9,56.6],[1756.3,47.7],[1757.6,49.0],[1759,51.5],[1760.4,52.2],[1761.8,50.3],[1763.2,49.0],[1764.5,48.3],[1765.9,50.3],[1767.3,47.7],[1768.7,50.3],[1770,47.1],[1771.4,45.8],[1772.8,44.5],[1774.2,45.8],[1775.5,43.9],[1776.9,41.3],[1778.3,44.5],[1779.7,46.4],[1781,47.1],[1782.4,42.6],[1783.8,38.8],[1785.2,34.9],[1786.5,39.4],[1787.9,42.0],[1789.3,37.5],[1790.7,38.8],[1792,36.2],[1793.4,36.9],[1794.8,39.4],[1796.2,42.6],[1797.6,44.5],[1798.9,46.4],[1800.3,49.0],[1801.7,52.2],[1803.1,51.5],[1804.4,44.5],[1805.8,49.0],[1807.2,51.5],[1808.6,54.1],[1809.9,52.8],[1811.3,50.9],[1812.7,52.8],[1814.1,56.0],[1815.4,53.4],[1816.8,51.5],[1818.2,50.3],[1819.6,51.5],[1820.9,49.0],[1822.3,45.8],[1823.7,47.7],[1825.1,54.1],[1826.4,59.2],[1827.8,60.5],[1829.2,61.7],[1830.6,66.2],[1832,59.2],[1833.3,58.5],[1834.7,60.5],[1836.1,59.2],[1837.5,57.3],[1838.8,59.2],[1840.2,61.1],[1841.6,59.2],[1843,57.3],[1844.3,60.5],[1845.7,66.2],[1847.1,57.9],[1848.5,55.4],[1849.8,54.1],[1851.2,56.6],[1852.6,57.9],[1854,56.6],[1855.3,52.8],[1856.7,51.5],[1858.1,49.6],[1859.5,47.7],[1860.8,51.5],[1862.2,55.4],[1863.6,59.2],[1865,63.0],[1866.4,64.3],[1867.7,67.5],[1869.1,70.7],[1870.5,56.6],[1871.9,44.5],[1873.2,40.1],[1874.6,39.4],[1876,37.5],[1877.4,40.1],[1878.7,41.3],[1880.1,38.8],[1881.5,41.3],[1882.9,43.2],[1884.2,42.6],[1885.6,38.8],[1887,43.2],[1888.4,40.7],[1889.7,36.9],[1891.1,35.6],[1892.5,33.0],[1893.9,29.8],[1895.2,27.9],[1896.6,27.3],[1898,26.7],[1899.4,26.0],[1900.8,38.8],[1902.1,49.0],[1903.5,50.3],[1904.9,47.7],[1906.3,48.3],[1907.6,49.6],[1909,55.4],[1910.4,56.6],[1911.8,58.5],[1913.1,55.4],[1914.5,55.4],[1915.9,54.1],[1917.3,38.8],[1918.6,42.6],[1920,42.0],[1921.4,38.8],[1922.8,40.7],[1924.1,42.6],[1925.5,31.1],[1926.9,29.8],[1928.3,27.3],[1929.6,26.0],[1931,26.7],[1932.4,28.6],[1933.8,31.1],[1935.2,31.8],[1936.5,24.7],[1937.9,23.5],[1939.3,24.1],[1940.7,27.3],[1942,31.1],[1943.4,33.7],[1944.8,37.5],[1946.2,39.4],[1947.5,44.5],[1948.9,45.2],[1950.3,44.5],[1951.7,39.4],[1953,42.6],[1954.4,44.5],[1955.8,40.7],[1957.2,43.2],[1958.5,37.5],[1959.9,40.7],[1961.3,43.9],[1962.7,47.1],[1964,45.2],[1965.4,42.6],[1966.8,41.3],[1968.2,41.3],[1969.6,38.8],[1970.9,37.5],[1972.3,35.6],[1973.7,34.3],[1975.1,32.4],[1976.4,31.1],[1977.8,32.4],[1979.2,30.5],[1980.6,23.5],[1981.9,27.3],[1983.3,34.9],[1984.7,32.4],[1986.1,31.8],[1987.4,32.4],[1988.8,30.5],[1990.2,31.1],[1991.6,26.7],[1992.9,25.4],[1994.3,25.1],[1995.7,25.4],[1997.1,24.7],[1998.4,26.7],[1999.8,34.3],[2001.2,31.1],[2002.6,27.9],[2004,29.2],[2005.3,30.5],[2006.7,34.3],[2008.1,33.7],[2009.5,32.4],[2010.8,36.2],[2012.2,41.3],[2013.6,39.4],[2014.3,45.8],[2015.6,44.5],[2017,43.9],[2018.4,49.6],[2019.8,53.4],[2021.2,49.0],[2022.5,47.7],[2023.9,50.3],[2025.3,52.8],[2026.7,52.8],[2028,62.4],[2029.4,58.5],[2030.8,57.3],[2032.2,57.9],[2033.5,60.5],[2034.9,52.8],[2036.3,59.2],[2037.7,59.2],[2039,59.2],[2040.4,54.1],[2041.8,50.9],[2043.2,51.5],[2044.5,49.0],[2045.9,50.3],[2047.3,49.0],[2048.7,47.1],[2050.1,52.2],[2051.4,53.4],[2052.8,56.6],[2054.2,57.3],[2055.6,66.2],[2056.9,59.2],[2058.3,55.4],[2059.7,59.8],[2061.1,60.5],[2062.4,62.4],[2063.8,68.1],[2065.2,71.9],[2066.6,66.8],[2067.9,60.5],[2069.3,59.2],[2070.7,54.1],[2072.1,54.1],[2073.4,52.8],[2074.8,55.4],[2076.2,59.2],[2077.6,60.5],[2079,56.6],[2080.3,55.4],[2081.7,51.5],[2083.1,49.0],[2084.5,45.2],[2085.8,40.7],[2087.2,36.2],[2088.6,33.0],[2090,34.9],[2091.3,41.0],[2092.7,36.2],[2094.1,33.0],[2095.5,30.5],[2096.8,32.4],[2098.2,33.0],[2099.6,31.1],[2101,36.2],[2102.3,34.9],[2103.7,40.7],[2105.1,33.0],[2106.5,40.7],[2107.8,45.2],[2109.2,46.4],[2110.6,54.1],[2112,58.5],[2113.3,57.9],[2114.7,57.6],[2116.1,57.3],[2117.5,64.3],[2118.8,64.9],[2120.2,56.6],[2121.6,55.4],[2123,54.1],[2124.4,56.6],[2125.7,57.0],[2127.1,55.4],[2128.5,63.0],[2129.9,68.1],[2131.2,71.9],[2132.6,73.9],[2134,75.1],[2135.4,74.5],[2136.7,69.4],[2138.1,66.2],[2139.5,61.7],[2140.9,62.4],[2142.2,58.5],[2143.6,59.8],[2145,60.5],[2146.4,56.0],[2147.4,54.7]];
// trend lines: [startDay, startRsi, endDay, endRsi]
var greenLines = [[161,72.6,346.4,2.4],[173.8,66.2,333,0.5],[213.3,32.1,295.9,100],[306.2,35.6,365.4,100],[308,36.5,366.5,100],[332,63.3,504,80.9],[328.6,59.5,538.4,97.4],[339.6,53.4,509.2,100],[348.5,60.1,502.3,85.3],[419.7,64.3,560.8,100],[476.5,83.5,630.6,9.4],[495.4,72.7,630.6,75.9],[517.8,63.3,685.4,100],[520,63.8,688,100],[517.8,44.2,608.9,100],[559,89.8,630.6,49.6],[591.7,64.6,630.6,61.4],[599.6,59.7,630.6,59.5],[406,72.6,586.5,89.2],[630.4,61.7,768,50.9],[630.4,59.5,814.4,58.7],[630.4,71,723.3,0.5],[675.1,51.2,852.3,76.1],[651,61.7,809.3,0.5],[682,35.6,778.3,100],[699.2,29.2,797.2,100],[723.3,33.7,774.9,100],[752.5,75.4,933.1,45.2],[754,75,935,44.5],[768,75.1,943.4,42.9],[817.9,63.6,993.3,58.5],[824.8,61.1,998.5,62.1],[824.8,59.5,1010.5,65.1],[891.8,61.4,986.4,24.7],[891.8,61.4,1041.5,13.9],[854,23.8,928,100],[838.5,40.1,984.7,100],[1022.6,100,1062.1,31.8],[1113.7,100,1129.2,1.5],[914.2,43.9,1112,78.3],[950.3,54.8,1155,61.7],[905.6,55,1082.8,54],[893.6,56.8,1075.9,46.7],[1077.6,40.1,1169.8,100],[991.6,46.4,1169.8,91.7],[1043.2,55.4,1169.8,88.5],[845.4,75.4,986.4,24.7],[1193.7,61.4,1376,70.3],[1227.4,68,1455.1,61.2],[1248.7,65.7,1439.6,59.2],[1267.6,65,1412.1,54.6],[1207.4,47.1,1348.5,100],[1228.1,48.3,1382.9,99],[1169.6,49.6,1255.6,100],[1288.3,100,1370.8,1.5],[1357,82.8,1529,4],[1364,74.6,1544.6,90.6],[1406.9,100,1579,0.2],[1417.3,91.7,1561.8,0.2],[1437.9,80.9,1608.2,0.2],[1465.4,57.6,1637.4,40.4],[1496.4,59.5,1599.6,100],[1558.3,83.1,1670.1,0.5],[1609.9,36.2,1685.6,100],[1630.6,25.1,1685.6,100],[1665,73.2,1827.5,100],[1667,72,1829,98.6],[1724.3,88.8,1842.9,0.8],[1734.6,80.5,1906.6,8.2],[1744.9,65.9,1915.2,42.3],[1748.4,56.6,1927.2,55.4],[1779.3,67,1958.2,65.4],[1801.7,63.8,2004.6,82.9],[1781,43.2,1898,100],[1879.1,69.1,2059.7,8.8],[1915.2,41.3,2147.4,96.2],[1942.7,46.7,2113,44.5],[1992.6,54.1,2135.4,91.1],[1956.5,44.5,2123.3,65.6],[2064.8,73.5,2147.4,75.9],[1935.8,55,2059.7,8.8],[1923.8,70,2039,0.5],[1994.3,0.5,2063.1,100]];
var redLines = [[170.3,6.9,321.7,89.8],[177.9,12.9,368.1,66.8],[169.6,0.2,289,100],[221.9,0.2,273.5,100],[220.2,30.2,333.7,71.3],[232.2,31.1,404.2,31],[232.2,31.1,404.2,28.9],[242.6,31.3,409.4,23.2],[220.2,30.5,382.9,37],[249.4,50.6,376.7,0.5],[266.6,39.7,411.1,0.5],[278.7,36.5,452.4,0.5],[281,35,455,0.5],[297.6,30.5,366.4,0.5],[361.2,15.9,531.5,52.2],[395.6,42.6,516,0.5],[406,38.5,500.6,0.5],[426.6,0.2,521.2,100],[430,12,567.6,100],[440.4,23.1,630.6,65.6],[445.5,24.1,630.6,63.6],[536.7,36.2,630.6,56.6],[559,60.5,630.6,40.1],[586.6,53.4,630.6,38.1],[504,38.8,621,65.6],[630.4,56.6,697.5,71.3],[630.4,42.6,688.9,0.5],[632,41,692,0.5],[630.4,40.1,1169.8,38.8],[731.9,44.5,1091.4,34.9],[654.5,23.8,843.7,35.6],[630.4,37.5,738.8,20],[630.4,36.2,738.8,9.4],[692.3,8.2,829.9,100],[752.5,0.2,869.5,100],[704.4,18,816.2,100],[745.6,65.9,929.7,5.6],[786.9,49.6,950.3,17.7],[802.4,46.4,940,0.5],[857.4,27.6,909,0.5],[879.8,20,1087.9,63.3],[914.2,22.8,1087.9,79],[952,42,1103.4,55.4],[972.7,33.5,1169.8,33.4],[1024.3,32.7,1169.8,31.1],[1024.3,32.7,1105.1,0.2],[964.1,48.3,1136.1,4],[1041.5,28.9,1169.8,40.7],[1103.4,44.5,1169.8,43.9],[1112,56,1169.8,40.7],[785.2,49.6,891.8,91.7],[768,36.2,895.3,90.8],[1169.6,43.9,1243.5,42.6],[1169.6,39.1,1523.9,38.1],[1169.6,30.5,1355.3,15.8],[1169.6,40.7,1272.8,16.8],[1169.6,42,1272.8,6.9],[1169.6,40.7,1235,0.5],[1193.7,50.3,1271.1,0.5],[1169.6,39.7,1267.6,57.6],[1169.6,42.6,1272.8,53.1],[1250.4,44.5,1417.3,31.8],[1276.2,45.2,1384.6,19],[1293.4,47.1,1462,8.2],[1350.2,45.2,1444.8,12],[1334.7,31.4,1508.4,41],[1334.7,31.4,1511.9,36.2],[1314.1,0.5,1412.1,100],[1382.9,0.5,1475.8,100],[1245.3,24.1,1417.3,91.1],[1212.6,14.2,1353.6,100],[1424.2,45.2,1566.9,66.2],[1446.5,59.2,1541.1,0.5],[1449,58,1544,0.5],[1494.7,4,1577.2,100],[1511.9,31.8,1568.6,85.3],[1566.9,39.4,1709,43.2],[1568.6,59.2,1666.7,100],[1608.2,36.2,1670.1,0.5],[1678.7,0.5,1744.9,100],[1717.4,92.3,1793.1,0.2],[1717.4,64.6,1867,0.2],[1719,64,1869,0.2],[1753.5,21.2,1944.4,95.5],[1753.5,50.3,1841.2,0.5],[1787.9,34,1951.3,85],[1790,33,1953,82],[1803.4,44.2,1958.2,55.7],[1856.7,48,1958.2,66.8],[1812,47.1,1984,22.5],[1829.2,60.5,1956.5,0.2],[1832,60,1959,0.2],[1875.6,27.6,2063.1,15.2],[1916.9,24.1,2111.3,20.9],[1906.6,4.3,2061.4,100],[1908.3,42.6,1977.1,0.2],[1959.9,3.1,2064.8,59.8],[2004.6,28.6,2147.4,88.2],[2006,28,2147.4,85],[2042.5,38.5,2147.4,20],[2049.4,61.7,2147.4,10.7],[2071.7,0.2,2147.4,75.1],[2099.2,28.3,2137,0.5],[2018.4,43.9,2064.8,47.4],[2052.8,8.8,2130.2,100]];

// ---- scales ----
var NS = "http://www.w3.org/2000/svg";
var X0 = 114, PX_PER_DAY = 2.0396;
var baseMs = Date.UTC(startDate[0], startDate[1], startDate[2]);
function xDay(d){ return X0 + d * PX_PER_DAY; }
function xDate(y, m){ return xDay((Date.UTC(y, m, 1) - baseMs) / 864e5); }
var TOP = {l:97, r:4704, t:53, b:1708};
var BOT = {l:97, r:4704, t:1735, b:2565};
function yPrice(v){ return 60 + (60 - v) * 40.2; }
function yRsi(v){ return BOT.b - v * (BOT.b - BOT.t) / 100; }

function mk(tag, attrs, parent){
  var e = document.createElementNS(NS, tag);
  for (var k in attrs) e.setAttribute(k, attrs[k]);
  parent.appendChild(e);
  return e;
}
var svg = document.getElementById('chart');
var topGrid = document.getElementById('topGrid');
var botGrid = document.getElementById('botGrid');
var topMarks = document.getElementById('topMarks');
var botMarks = document.getElementById('botMarks');
var axes = document.getElementById('axes');

// month ticks
var months = [];
for (var yy = 1999, mm = 9; yy < 2005 || (yy === 2005 && mm <= 10); ) {
  months.push([yy, mm]);
  mm++; if (mm > 11) { mm = 0; yy++; }
}
months.forEach(function(ym){
  var x = xDate(ym[0], ym[1]);
  var g1 = mk('line', {x1:x, x2:x, y1:TOP.t, y2:TOP.b, stroke:'#cfcfcf', 'stroke-width':2.5, 'stroke-dasharray':'14,8'}, topGrid);
  
  
  var g2 = mk('line', {x1:x, x2:x, y1:BOT.t, y2:BOT.b, stroke:'#cfcfcf', 'stroke-width':2.5, 'stroke-dasharray':'14,8'}, botGrid);
  
  
  var t1 = mk('line', {x1:x, x2:x, y1:TOP.b, y2:TOP.b + 12, stroke:'#000', 'stroke-width':2.5}, axes);
  
  
  var t2 = mk('line', {x1:x, x2:x, y1:BOT.b, y2:BOT.b + 12, stroke:'#000', 'stroke-width':2.5}, axes);
  
  
  var lbl = mk('text', {x:x - 6, y:BOT.b + 38, 'font-size':24, 'text-anchor':'end', fill:'#000', transform:'rotate(-32 ' + (x - 6) + ' ' + (BOT.b + 38) + ')'}, axes);
  lbl.textContent = monthNames[ym[1]] + ' ' + ym[0];
  
  
});

// RSI horizontal grid
rsiTicks.forEach(function(v){
  var y = yRsi(v);
  if (v > 0 && v < 100) {
    var gl = mk('line', {x1:BOT.l, x2:BOT.r, y1:y, y2:y, stroke:'#b0b0b0', 'stroke-width':2}, botGrid);
    
    
  }
  var tk = mk('line', {x1:BOT.l - 12, x2:BOT.l, y1:y, y2:y, stroke:'#000', 'stroke-width':2.5}, axes);
  
  
  var tl = mk('text', {x:BOT.l - 18, y:y + 8, 'font-size':22, 'text-anchor':'end', fill:'#000'}, axes);
  tl.textContent = v;
  
  
});
[70, 30].forEach(function(v){
  var y = yRsi(v);
  var l = mk('line', {x1:BOT.l, x2:BOT.r, y1:y, y2:y, stroke:'#777', 'stroke-width':2.5, 'stroke-dasharray':'7,4'}, botGrid);
  
  
});
// price y ticks
priceTicks.forEach(function(v){
  var y = yPrice(v);
  var tk = mk('line', {x1:TOP.l - 12, x2:TOP.l, y1:y, y2:y, stroke:'#000', 'stroke-width':2.5}, axes);
  
  
  var tl = mk('text', {x:TOP.l - 18, y:y + 9, 'font-size':24, 'text-anchor':'end', fill:'#000'}, axes);
  tl.textContent = v;
  
  
});

// price line
var pd = priceData.map(function(p, i){ return (i ? 'L' : 'M') + xDay(p[0]).toFixed(1) + ' ' + yPrice(p[1]).toFixed(1); }).join('');
var pl = mk('path', {d:pd, fill:'none', stroke:'#0000ff', 'stroke-width':2, 'stroke-linejoin':'round'}, topMarks);



// trend lines
function drawLines(arr, color, name){
  arr.forEach(function(l){
    var e = mk('line', {x1:xDay(l[0]), y1:yRsi(l[1]), x2:xDay(l[2]), y2:yRsi(l[3]), stroke:color, 'stroke-width':2}, botMarks);
    
    
  });
}
drawLines(greenLines, '#008000', 'resistance-trendline');
drawLines(redLines, '#ff0000', 'support-trendline');

// RSI line
var rd = rsiData.map(function(p, i){ return (i ? 'L' : 'M') + xDay(p[0]).toFixed(1) + ' ' + yRsi(p[1]).toFixed(1); }).join('');
var rl = mk('path', {d:rd, fill:'none', stroke:'#800080', 'stroke-width':2.5, 'stroke-linejoin':'round'}, botMarks);



// spines
var s1 = mk('rect', {x:TOP.l, y:TOP.t, width:TOP.r - TOP.l, height:TOP.b - TOP.t, fill:'none', stroke:'#000', 'stroke-width':4}, axes);


var s2 = mk('rect', {x:BOT.l, y:BOT.t, width:BOT.r - BOT.l, height:BOT.b - BOT.t, fill:'none', stroke:'#000', 'stroke-width':4}, axes);


</script>
</body></html>
